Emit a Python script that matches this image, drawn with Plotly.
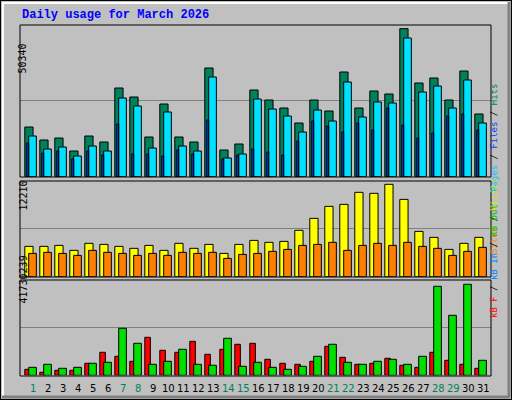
import plotly.graph_objects as go

days = list(range(1, 32))
hits = [16900,12480,13160,8740,13840,11800,30160,27100,13500,24720,13500,11800,36960,9080,11120,29480,
        26080,23360,18260,26080,22340,35600,23360,29140,28120,50340,31860,33560,26080,35940,21320]
files = [13840,9420,10100,7040,10440,8740,26760,24040,9760,22000,10440,8740,33900,6360,7720,26420,
         23020,20640,15200,22680,18940,32200,20300,25400,25060,47160,28800,30840,23360,32880,18260]
pages = [11460,8060,8740,6020,8740,7380,17920,7720,7720,7040,9080,7720,19280,6020,7380,9420,
         8400,7380,12140,18940,17240,15200,18260,15880,23360,17580,13160,14860,20640,21320,15880]
visits = [4010,4010,4140,3480,4410,4270,4010,3750,4140,3480,4410,3750,4270,3080,4270,4800,
          4540,4670,6130,7710,9300,9560,11150,11020,12210,10220,5990,5200,3610,4410,5200]
sites = [3080,3220,3080,2820,3480,3220,3080,2820,3080,2820,3220,3080,3220,2420,2950,3080,
         3350,3610,4140,4270,4540,3480,4140,4410,4140,4540,4010,3750,2820,3350,3880]
kb_f = [2.75,1.38,2.29,2.29,5.50,10.55,8.71,6.42,17.43,11.46,10.55,15.59,9.63,11.92,14.22,14.67,
        7.34,5.50,5.04,6.42,13.30,8.25,5.04,5.50,7.80,4.59,3.67,10.55,6.88,5.04,3.21]
kb_out = [3.67,5.04,3.21,3.67,5.50,5.96,21.55,14.67,5.04,6.42,11.92,5.04,4.59,16.97,4.13,5.96,
          3.67,2.75,4.13,8.71,14.22,5.96,5.04,6.42,7.34,5.04,8.71,40.81,27.51,41.73,6.88]
kb_f = [v * 1e6 for v in kb_f]
kb_out = [v * 1e6 for v in kb_out]
weekend = [1, 7, 8, 14, 15, 21, 22, 28, 29]
max_labels = ["50340", "12210", "41730239"]

R1, R2, R3 = 51580, 12690, 43560000

fig = go.Figure()
def bar(y, color, off, w, ax):
    fig.add_trace(go.Bar(x=days, y=y, offset=off, width=w, marker=dict(color=color, line=dict(color="black", width=1)),
                         xaxis="x" if ax == 1 else f"x{ax}", yaxis="y" if ax == 1 else f"y{ax}", showlegend=False))

bar(hits, "#00805C", -0.55, 0.55, 1)
bar(files, "#00E0FF", -0.29, 0.51, 1)
bar(pages, "#0040FF", -0.42, 0.13, 1)
bar(visits, "#FFFF00", -0.55, 0.55, 2)
bar(sites, "#FF8000", -0.29, 0.51, 2)
bar(kb_f, "#FF0000", -0.55, 0.37, 3)
bar(kb_out, "#00E000", -0.29, 0.51, 3)

xr = [0.13, 31.53]
xd = [20/512, 491/512]
def yd(top, bot):
    return [1 - bot/400, 1 - top/400]
xa = dict(range=xr, domain=xd, showticklabels=False, showgrid=False, zeroline=False, fixedrange=True)
fig.update_layout(
    width=512, height=400, margin=dict(l=0, r=0, t=0, b=0),
    paper_bgcolor="#C0C0C0", plot_bgcolor="#C0C0C0", barmode="overlay",
    xaxis=dict(**xa, anchor="y"), xaxis2=dict(**xa, anchor="y2"), xaxis3=dict(**xa, anchor="y3"),
    yaxis=dict(range=[0, R1], domain=yd(25, 176.7), tickvals=[R1/2], showticklabels=False, gridcolor="#808080", zeroline=False),
    yaxis2=dict(range=[0, R2], domain=yd(180.7, 276.7), tickvals=[R2/2], showticklabels=False, gridcolor="#808080", zeroline=False),
    yaxis3=dict(range=[0, R3], domain=yd(280.3, 375.3), tickvals=[R3/2], showticklabels=False, gridcolor="#808080", zeroline=False),
)

shapes = []
for t, b in [(25, 177), (181, 277), (280, 376)]:
    shapes.append(dict(type="rect", xref="paper", yref="paper", x0=20/512, x1=491/512, y0=1-b/400, y1=1-t/400,
                       line=dict(color="black", width=1)))
shapes += [
    dict(type="rect", xref="paper", yref="paper", x0=0, x1=1, y0=0, y1=1, line=dict(color="black", width=2)),
    dict(type="line", xref="paper", yref="paper", x0=2/512, x1=510/512, y0=1-3/400, y1=1-3/400, line=dict(color="white", width=2)),
    dict(type="line", xref="paper", yref="paper", x0=3/512, x1=3/512, y0=3/400, y1=1-2/400, line=dict(color="white", width=2)),
    dict(type="line", xref="paper", yref="paper", x0=2/512, x1=510/512, y0=3/400, y1=3/400, line=dict(color="#808080", width=3)),
    dict(type="line", xref="paper", yref="paper", x0=509/512, x1=509/512, y0=3/400, y1=1-2/400, line=dict(color="#808080", width=3)),
]
fig.update_layout(shapes=shapes)

ann = [dict(text="<b>Daily usage for March 2026</b>", x=20/512, y=1-15/400, xref="paper", yref="paper",
            xanchor="left", yanchor="middle", showarrow=False, font=dict(family="Liberation Mono", size=12, color="#0000FF"))]
for lab, yc in zip(max_labels, [42, 196, 306]):
    ann.append(dict(text=lab, x=15/512, y=1-yc/400, xref="paper", yref="paper", textangle=-90, showarrow=False,
                    font=dict(family="DejaVu Sans Mono", size=10, color="black")))
for d in days:
    ann.append(dict(text=str(d), x=d, y=1-388/400, xref="x3", yref="paper", showarrow=False, yanchor="middle",
                    font=dict(family="DejaVu Sans", size=10, color="#008060" if d in weekend else "black")))
def sp(t, c):
    return f"<span style='color:{c}'>{t}</span>"
rl = [
    (sp("Pages", "#00C0FF") + sp(" / ", "black") + sp("Files", "#0040FF") + sp(" / ", "black") + sp("Hits", "#00805C"), 82),
    (sp("Sites", "#FF8000") + sp(" / ", "black") + sp("Visits", "#E0E000"), 216),
    (sp("kB F", "#FF0000") + sp(" / ", "black") + sp("kB In", "#0080FF") + sp(" / ", "black") + sp("kB Out", "#00C000"), 320),
]
for t, yc in rl:
    ann.append(dict(text=t, x=501/512, y=1-yc/400, xref="paper", yref="paper", textangle=-90, showarrow=False,
                    font=dict(family="DejaVu Sans Mono", size=9)))
fig.update_layout(annotations=ann)

fig.write_html("out.html", config={"displayModeBar": False},
               post_script="document.body.style.margin='0';document.body.style.overflow='hidden';")
